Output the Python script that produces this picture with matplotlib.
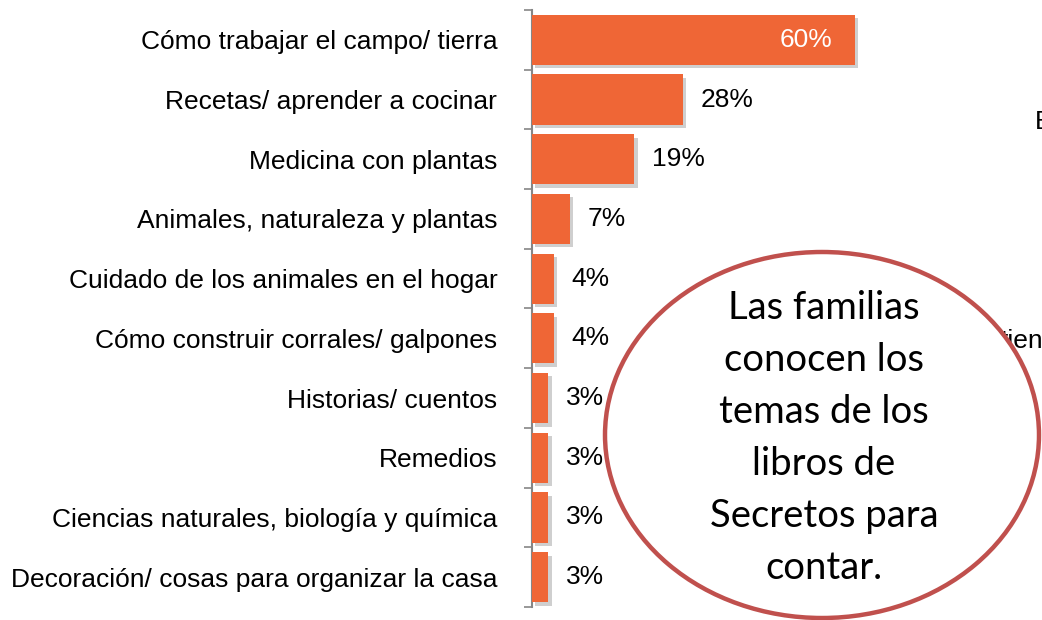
import matplotlib
matplotlib.use("Agg")
import matplotlib.pyplot as plt
from matplotlib.patches import Ellipse
from matplotlib import patheffects as pe

# data
categories = [
    "Cómo trabajar el campo/ tierra",
    "Recetas/ aprender a cocinar",
    "Medicina con plantas",
    "Animales, naturaleza y plantas",
    "Cuidado de los animales en el hogar",
    "Cómo construir corrales/ galpones",
    "Historias/ cuentos",
    "Remedios",
    "Ciencias naturales, biología y química",
    "Decoración/ cosas para organizar la casa",
]
values = [60, 28, 19, 7, 4, 4, 3, 3, 3, 3]
bubble_text = "Las familias\nconocen los\ntemas de los\nlibros de\nSecretos para\ncontar."

W, H = 1042, 620
BAR = "#EF6636"
GRAY = "#868686"

fig = plt.figure(figsize=(W / 100, H / 100), dpi=100)
fig.patch.set_facecolor("white")

# main bar axes, placed in pixel terms
ax = fig.add_axes([532 / W, 13 / H, 510 / W, 597 / H])
y = list(range(len(categories)))
shadow = [pe.SimplePatchShadow(offset=(2.5, -2.5), shadow_rgbFace="#777777", alpha=0.35), pe.Normal()]
bars = ax.barh(y, values, height=0.84, color=BAR, zorder=3)
for b in bars:
    b.set_path_effects(shadow)

ax.set_xlim(0, 94.8)
ax.set_ylim(len(categories) - 0.5, -0.5)

ax.set_yticks(y)
ax.set_yticklabels(categories, family="Liberation Sans", fontsize=19)
ax.tick_params(axis="y", which="major", length=0, pad=25)
ax.set_yticks([i - 0.5 for i in range(len(categories) + 1)], minor=True)
ax.tick_params(axis="y", which="minor", length=6, width=1.2, color=GRAY, direction="out")
ax.xaxis.set_visible(False)
for s in ["top", "right", "bottom"]:
    ax.spines[s].set_visible(False)
ax.spines["left"].set_color(GRAY)
ax.spines["left"].set_linewidth(1.5)

for i, v in enumerate(values):
    if v >= 50:
        ax.annotate(f"{v}%", (v, i), xytext=(-16, 0), textcoords="offset points",
                    ha="right", va="center", color="white",
                    family="Liberation Sans", fontsize=19, zorder=4)
    else:
        ax.annotate(f"{v}%", (v, i), xytext=(13, 0), textcoords="offset points",
                    ha="left", va="center", color="black",
                    family="Liberation Sans", fontsize=19, zorder=4)

# overlay in pixel coordinates for the callout bubble and cut-off texts
ov = fig.add_axes([0, 0, 1, 1], zorder=5)
ov.set_xlim(0, W)
ov.set_ylim(H, 0)
ov.axis("off")
ov.patch.set_alpha(0)

ov.text(1035, 122, "E", family="Liberation Sans", fontsize=19, va="center", ha="left", zorder=1)
ov.text(1001, 341, "tien", family="Liberation Sans", fontsize=19, va="center", ha="left", zorder=1)

ell = Ellipse((822, 435), 434, 366, facecolor="white", edgecolor="#C0504D", linewidth=3.2, zorder=2)
ov.add_patch(ell)
ov.text(824, 438, bubble_text, family="Lato", fontsize=27.5, ha="center", va="center",
        linespacing=1.55, color="black", zorder=3)

fig.savefig("out.png", dpi=100)
